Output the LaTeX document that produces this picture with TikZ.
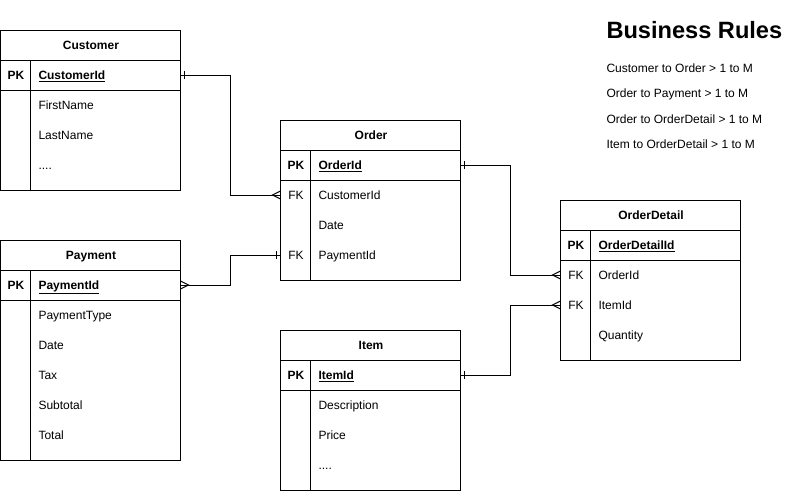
\documentclass[tikz,border=0pt]{standalone}
\usepackage{fontspec}
\setmainfont{Liberation Sans}
\usetikzlibrary{positioning, calc}

\tikzset{
  erframe/.style={draw, anchor=north west, minimum width=180pt, inner sep=0pt, outer sep=0pt},
  erhead/.style={anchor=north west, minimum width=180pt, minimum height=30pt, inner sep=0pt,
    text height=8.6pt, text depth=0pt, font={\fontsize{12}{14}\selectfont\bfseries}},
  field/.style={anchor=north west, minimum height=30pt, inner xsep=38pt, inner ysep=0pt,
    text width=104pt, align=left, text height=8.6pt, text depth=0pt, outer sep=0pt},
  keycol/.style={anchor=north west, minimum width=30pt, minimum height=30pt, inner sep=0pt,
    text height=8.6pt, text depth=0pt},
  rule/.style={anchor=base west, inner sep=0pt}
}

\begin{document}
\begin{tikzpicture}[x=1pt, y=-1pt, line width=1pt, font=\fontsize{12}{14}\selectfont]

			\useasboundingbox (-0.5,0) rectangle (790.5,491);

			\def\erbox#1#2#3#4#5#6#7{%
				\node[erframe, minimum height=#4] (#1) at (#2,#3) {};
				\node[erhead] (#1h) at (#2,#3) {#5};
				\node[field] (#1pk) at (#2,#3+30) {\underline{\textbf{#6}}};
				\node[keycol] (#1pkk) at (#2,#3+30) {\textbf{PK}};
				\draw (#1pk.north west) -- (#1pk.north east);
				\draw (#1pk.south west) -- (#1pk.south east);
				\draw (#2+30,#3+30) -- (#2+30,#3+#4);
				\foreach \k/\t [count=\i] in {#7} {
					\node[field] (#1\i) at (#2,#3+30+30*\i) {\t};
					\node[keycol] (#1k\i) at (#2,#3+30+30*\i) {\k};
				}
			}

			\def\onemark#1#2{\draw ($(#1)+(#2,-4)$) -- ($(#1)+(#2,4)$);}
			\def\manymark#1#2{\draw ($(#1)+(0,-4)$) -- ($(#1)+(#2,0)$) -- ($(#1)+(0,4)$);}

			\erbox{cust}{0}{30}{160}{Customer}{CustomerId}{/FirstName, /LastName, /{....}}
			\erbox{pay}{0}{240}{220}{Payment}{PaymentId}{/PaymentType, /Date, /Tax, /Subtotal, /Total}
			\erbox{ord}{280}{120}{160}{Order}{OrderId}{FK/CustomerId, /Date, FK/PaymentId}
			\erbox{item}{280}{330}{160}{Item}{ItemId}{/Description, /Price, /{....}}
			\erbox{odet}{560}{200}{160}{OrderDetail}{OrderDetailId}{FK/OrderId, FK/ItemId, /Quantity}

			\draw (custpk.east) -- ++(50,0) |- (ord1.west);
			\draw (paypk.east) -- ++(50,0) |- (ord3.west);
			\draw (ordpk.east) -- ++(50,0) |- (odet1.west);
			\draw (itempk.east) -- ++(50,0) |- (odet2.west);

			\onemark{custpk.east}{4}
			\manymark{ord1.west}{-8}
			\manymark{paypk.east}{8}
			\onemark{ord3.west}{-4}
			\onemark{ordpk.east}{4}
			\manymark{odet1.west}{-8}
			\onemark{itempk.east}{4}
			\manymark{odet2.west}{-8}

			\node[rule, font={\fontsize{23.6}{28}\selectfont\bfseries}] (rules) at (605.5,38) {Business Rules};
			\foreach \r [count=\i] in {Customer to Order > 1 to M, Order to Payment > 1 to M,
				Order to OrderDetail > 1 to M, Item to OrderDetail > 1 to M}
			\node[rule] (rule\i) at (605.5,46.4+25.6*\i) {\r};
\end{tikzpicture}
\end{document}
